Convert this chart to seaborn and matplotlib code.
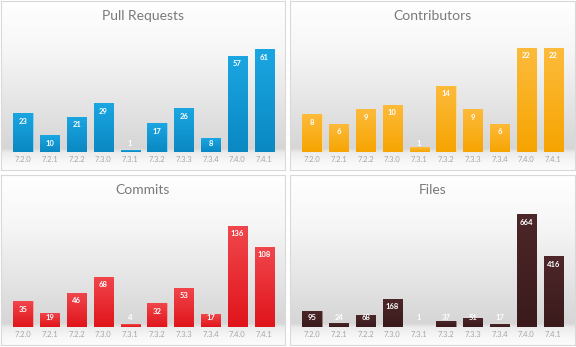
import numpy as np
import pandas as pd
import matplotlib
matplotlib.use("Agg")
import matplotlib.pyplot as plt
import seaborn as sns
from matplotlib.colors import to_rgb

sns.set_theme(style="white")
plt.rcParams['font.family'] = ['Lato', 'DejaVu Sans']

versions = ["7.2.0", "7.2.1", "7.2.2", "7.3.0", "7.3.1", "7.3.2", "7.3.3", "7.3.4", "7.4.0", "7.4.1"]
pull_requests = [23, 10, 21, 29, 1, 17, 26, 8, 57, 61]
contributors = [8, 6, 9, 10, 1, 14, 9, 6, 22, 22]
commits = [35, 19, 46, 68, 4, 32, 53, 17, 136, 108]
files = [95, 24, 68, 168, 1, 37, 51, 17, 664, 416]
titles = ["Pull Requests", "Contributors", "Commits", "Files"]

W, H = 576, 347
fig = plt.figure(figsize=(W / 100, H / 100), dpi=100)

def fr(x0, y0, x1, y1):
    # pixel box (top-left origin) -> figure fraction rect
    return [x0 / W, 1 - y1 / H, (x1 - x0) / W, (y1 - y0) / H]

panels = [
    dict(box=(1, 1, 285, 170), base=152, vals=pull_requests, title=titles[0], ty=16,
         ctop="#1ba6e2", cbot="#0a88c2", edge="#8fd3f0", maxpx=103),
    dict(box=(290, 1, 575, 170), base=152, vals=contributors, title=titles[1], ty=16,
         ctop="#fdbb3c", cbot="#f6a400", edge="#fddc9a", maxpx=104),
    dict(box=(1, 175, 285, 345), base=327, vals=commits, title=titles[2], ty=190,
         ctop="#f0474c", cbot="#e0141b", edge="#f7a3a5", maxpx=101),
    dict(box=(290, 175, 575, 345), base=327, vals=files, title=titles[3], ty=190,
         ctop="#4d272a", cbot="#3a1a1c", edge="#9a8283", maxpx=112.6),
]

def grad_img(stops, n=256):
    pos = [s[0] for s in stops]
    cols = np.array([to_rgb(s[1]) for s in stops])
    t = np.linspace(0, 1, n)
    img = np.zeros((n, 1, 3))
    for c in range(3):
        img[:, 0, c] = np.interp(t, pos, cols[:, c])
    return img

for p in panels:
    x0, y0, x1, y1 = p["box"]
    ph = y1 - y0
    bg = fig.add_axes(fr(x0, y0, x1, y1))
    bf = (p["base"] - y0) / ph
    img = grad_img([(0, "#ffffff"), (0.3, "#f6f6f6"), (bf - 0.02, "#d6d6d6"),
                    (bf + 0.005, "#ececec"), (bf + 0.06, "#f7f7f7"), (1, "#fcfcfc")])
    bg.imshow(img, extent=[0, 1, 1, 0], aspect="auto", zorder=0)
    bg.set_xlim(0, 1)
    bg.set_ylim(1, 0)
    bg.set_xticks([])
    bg.set_yticks([])
    for s in bg.spines.values():
        s.set_color("#d9d9d9")
        s.set_linewidth(0.8)
    bg.text(0.5, 1 - (p["ty"] - y0) / ph, p["title"], transform=bg.transAxes,
            ha="center", va="center", fontsize=10, color="#7a7a7a", fontweight="normal",
            zorder=6)

    axh = 120
    ax = fig.add_axes(fr(x0 + 8.6, p["base"] - axh, x0 + 276.6, p["base"]))
    ax.patch.set_alpha(0)
    vals = p["vals"]
    ymax = max(vals) * axh / p["maxpx"]
    ppu = axh / ymax
    df = pd.DataFrame({"version": versions, "value": vals})
    sns.barplot(data=df, x="version", y="value", ax=ax, color=p["ctop"], width=0.71,
                edgecolor=p["edge"], linewidth=0.6, saturation=1)
    bimg = grad_img([(0, p["ctop"]), (1, p["cbot"])])
    for patch in ax.patches:
        bx, bw, bh = patch.get_x(), patch.get_width(), patch.get_height()
        im = ax.imshow(bimg, extent=[bx, bx + bw, 0, bh], aspect="auto", zorder=patch.get_zorder() + 0.1)
        im.set_clip_path(patch)
    for i, v in enumerate(vals):
        ly = max(v - 8 / ppu, 9 / ppu)
        ax.text(i, ly, str(v), ha="center", va="center", color="white",
                fontsize=5.5, fontweight="bold", zorder=5)
    ax.set_xlim(-0.5, len(vals) - 0.5)
    ax.set_ylim(0, ymax)
    ax.set_xlabel("")
    ax.set_ylabel("")
    ax.set_yticks([])
    ax.tick_params(axis="x", length=0, pad=3, labelsize=5.5, labelcolor="#a6a6a6")
    for s in ax.spines.values():
        s.set_visible(False)

fig.savefig("out.png", dpi=100)
